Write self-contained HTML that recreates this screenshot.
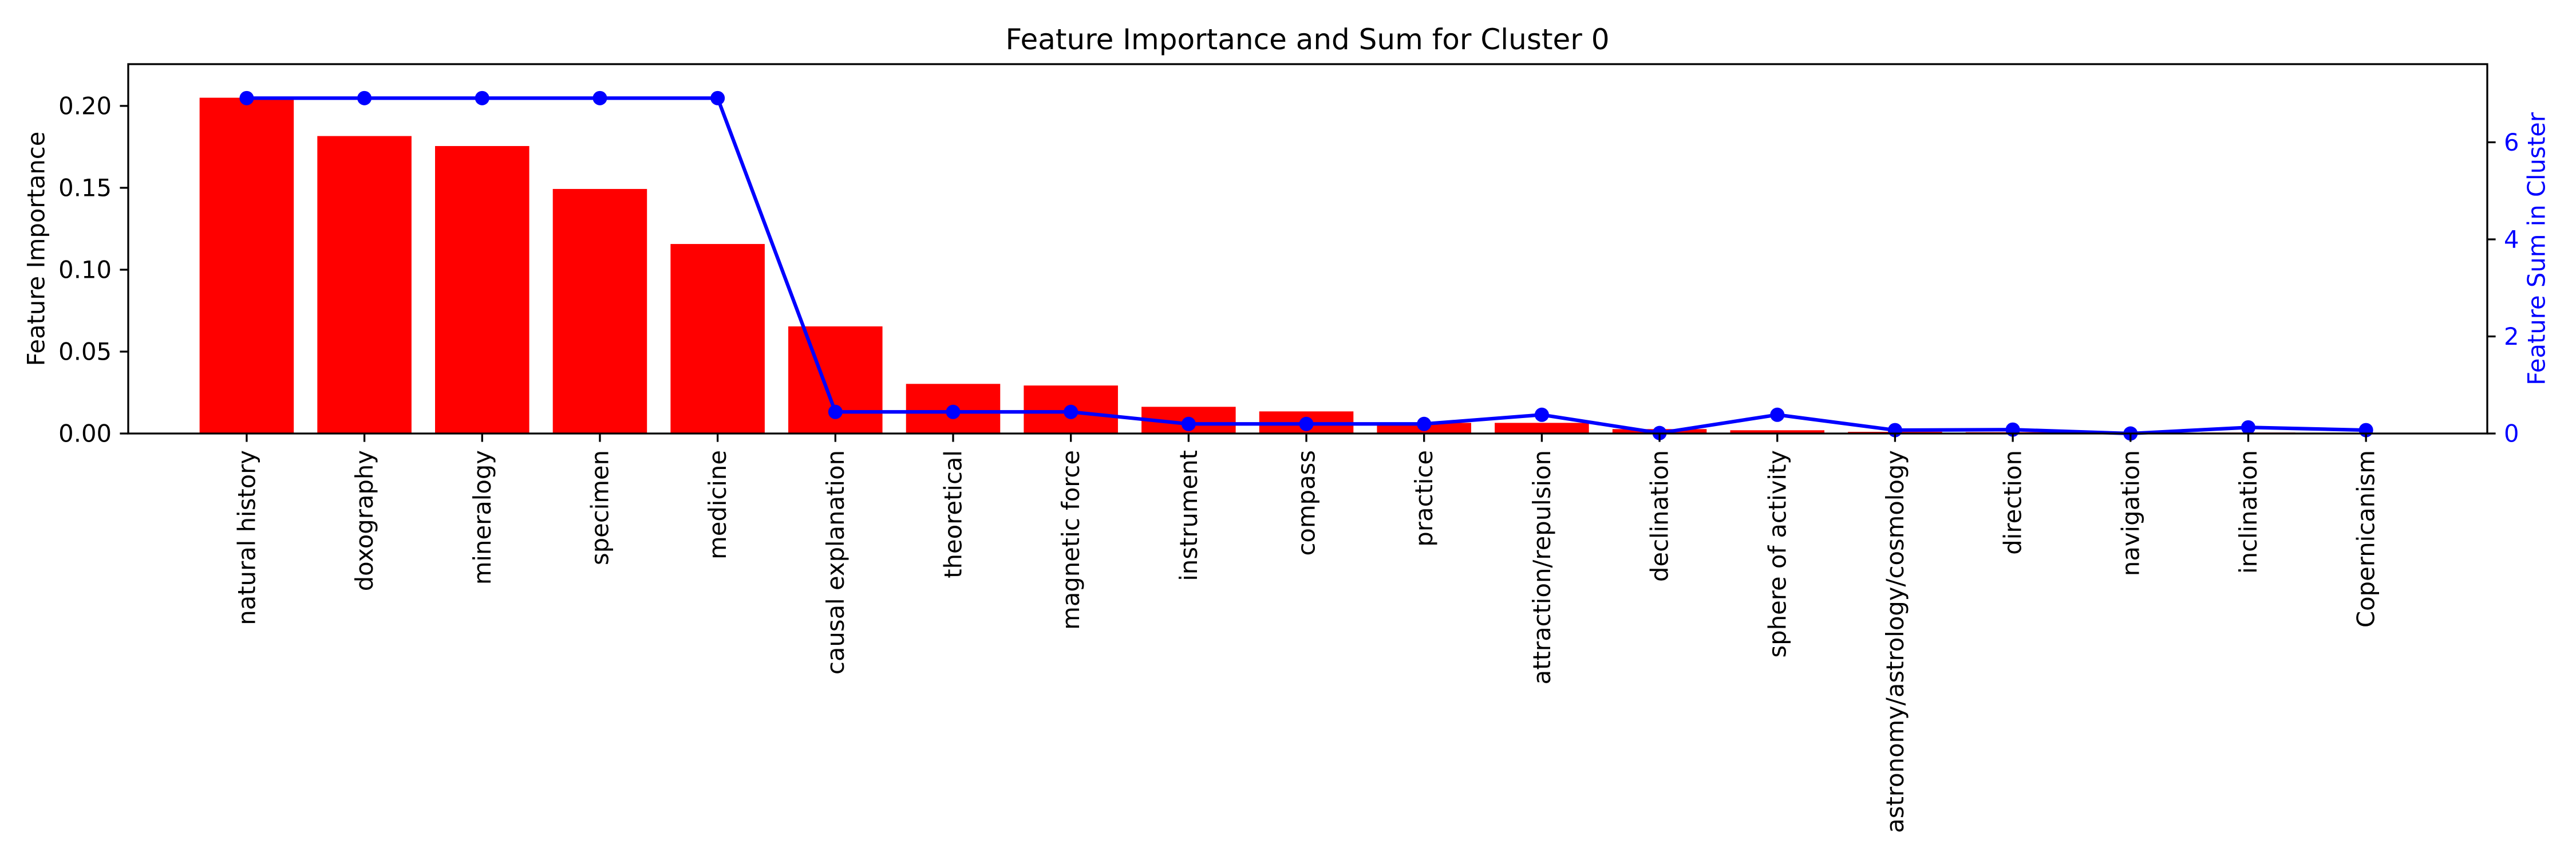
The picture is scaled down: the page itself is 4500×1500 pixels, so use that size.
<!DOCTYPE html>
<html><head><meta charset="utf-8"><style>
html,body{margin:0;padding:0;background:#fff;}
svg{display:block;font-family:"DejaVu Sans","Liberation Sans",sans-serif;}
</style></head><body>
<svg id="chart" width="4500" height="1500" viewBox="0 0 4500 1500" xmlns="http://www.w3.org/2000/svg">
<text x="2284" y="86" font-size="50" text-anchor="middle">Feature Importance and Sum for Cluster 0</text>
<g id="plot"></g>
</svg>
<script>
const categories = ["natural history","doxography","mineralogy","specimen","medicine","causal explanation","theoretical","magnetic force","instrument","compass","practice","attraction/repulsion","declination","sphere of activity","astronomy/astrology/cosmology","direction","navigation","inclination","Copernicanism"];
const importance = [0.205,0.1816,0.1755,0.1493,0.1157,0.0654,0.0303,0.0293,0.0163,0.0135,0.0065,0.0065,0.0027,0.002,0.001,0.0008,0.0005,0.0006,0.0004];
const featureSum = [6.91,6.91,6.91,6.91,6.91,0.445,0.445,0.445,0.197,0.197,0.197,0.386,0.01,0.386,0.07,0.08,0.0,0.126,0.07];
const leftTicks = [0,0.05,0.10,0.15,0.20];
const leftTickLabels = ["0.00","0.05","0.10","0.15","0.20"];
const rightTicks = [0,2,4,6];
const rightTickLabels = ["0","2","4","6"];

const L=224,R=4345,T=112,B=757;
const xmin=-1.006,xmax=19.03, ymaxL=0.2255, ymaxR=7.61;
const xs=v=>L+(v-xmin)/(xmax-xmin)*(R-L);
const yL=v=>B-v/ymaxL*(B-T);
const yR=v=>B-v/ymaxR*(B-T);
const NS="http://www.w3.org/2000/svg";
const g=document.getElementById('plot');
function mk(tag,attrs,parent){const e=document.createElementNS(NS,tag);for(const k in attrs)e.setAttribute(k,attrs[k]);(parent||g).appendChild(e);return e;}
const FS=41.7;
importance.forEach((v,i)=>{
  const w=(xs(0.8)-xs(0));
  const r=mk('rect',{x:xs(i)-w/2,y:yL(v),width:w,height:B-yL(v),fill:'#ff0000'});
  
  
});
const pts=featureSum.map((v,i)=>xs(i)+','+yR(v)).join(' ');
const pl=mk('polyline',{points:pts,fill:'none',stroke:'#0000ff','stroke-width':6.25,'stroke-linejoin':'round'});


featureSum.forEach((v,i)=>{
  const c=mk('circle',{cx:xs(i),cy:yR(v),r:12.5,fill:'#0000ff'});
  
  
});
const fr=mk('rect',{x:L,y:T,width:R-L,height:B-T,fill:'none',stroke:'#000','stroke-width':3.3});


leftTicks.forEach((v,i)=>{
  mk('line',{x1:L,x2:L-14.6,y1:yL(v),y2:yL(v),stroke:'#000','stroke-width':3.3});
  const t=mk('text',{x:L-29,y:yL(v),'font-size':FS,'text-anchor':'end','dominant-baseline':'central'});
  t.textContent=leftTickLabels[i];
  
  
});
rightTicks.forEach((v,i)=>{
  mk('line',{x1:R,x2:R+14.6,y1:yR(v),y2:yR(v),stroke:'#000','stroke-width':3.3});
  const t=mk('text',{x:R+29,y:yR(v),'font-size':FS,fill:'#0000ff','dominant-baseline':'central'});
  t.textContent=rightTickLabels[i];
  
  
});
categories.forEach((c,i)=>{
  const x=xs(i);
  mk('line',{x1:x,x2:x,y1:B,y2:B+14.6,stroke:'#000','stroke-width':3.3});
  const t=mk('text',{x:0,y:0,'font-size':FS,'text-anchor':'end','dominant-baseline':'central',transform:`translate(${x},786) rotate(-90)`});
  t.textContent=c;
  
  
});
const yl=mk('text',{x:0,y:0,'font-size':FS,'text-anchor':'middle','dominant-baseline':'central',transform:`translate(63,${(T+B)/2}) rotate(-90)`});
yl.textContent='Feature Importance';


const yr=mk('text',{x:0,y:0,'font-size':FS,fill:'#0000ff','text-anchor':'middle','dominant-baseline':'central',transform:`translate(4431,${(T+B)/2}) rotate(-90)`});
yr.textContent='Feature Sum in Cluster';


</script>
</body></html>
